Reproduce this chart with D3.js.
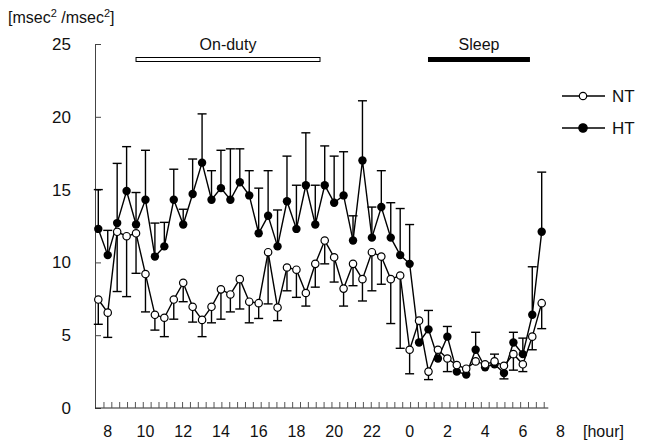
<!DOCTYPE html>
<html>
<head>
<meta charset="utf-8">
<script src="https://cdn.jsdelivr.net/npm/d3@7"></script>
<style>
  body { margin: 0; background: #fff; }
  text { font-family: "Liberation Sans", Arial, sans-serif; fill: #111; }
</style>
</head>
<body>
<script>
// hours of day, every 30 min from 7:30 to 7:00 next morning (24 = midnight)
var hours = d3.range(48).map(function(i) { return 7.5 + i * 0.5; });

// HT means and end of their error bars
var htMean = [12.3, 10.5, 12.7, 14.9, 12.6, 14.3, 10.4, 11.1, 14.3, 12.6, 14.7, 16.85,
              14.3, 15.1, 14.3, 15.5, 14.6, 12.0, 13.2, 11.1, 14.2, 12.3, 15.3, 12.6,
              15.3, 14.1, 14.6, 11.5, 17.0, 11.7, 13.8, 11.7, 10.5, 9.9, 4.5, 5.4,
              3.4, 4.9, 2.5, 2.3, 4.0, 2.8, 3.0, 2.4, 4.5, 3.7, 6.4, 12.1];
var htBar = [15.0, 12.2, 16.8, 17.95, 14.8, 17.7, 12.7, 12.75, 16.4, 13.65, 17.1, 20.2,
             16.3, 17.7, 17.8, 17.8, 16.3, 15.1, 16.3, 13.6, 17.3, 15.3, 18.9, 15.3,
             18.0, 17.3, 17.6, 13.2, 21.1, 13.8, 16.3, 14.1, 13.7, 12.6, null, 6.7,
             null, 5.6, null, null, 5.2, null, 3.7, 2.0, 5.2, 4.8, 9.7, 16.2];

// NT means and end of their error bars
var ntMean = [7.45, 6.55, 12.1, 11.8, 12.0, 9.2, 6.4, 6.2, 7.45, 8.6, 6.95, 6.05,
              6.95, 8.15, 7.8, 8.85, 7.3, 7.2, 10.7, 6.9, 9.65, 9.5, 7.9, 9.9,
              11.5, 10.35, 8.2, 9.9, 8.85, 10.7, 10.4, 8.85, 9.1, 4.0, 6.0, 2.5,
              4.0, 3.4, 2.95, 2.7, 3.2, 3.0, 3.2, 2.9, 3.7, 3.0, 4.9, 7.2];
var ntBar = [5.75, 4.85, 8.0, 7.65, 9.25, 6.6, 5.35, 4.9, 6.1, 7.3, 5.9, 4.9,
             5.85, 6.1, 6.6, 6.8, 5.85, 6.15, 7.15, 6.0, 8.05, 7.6, 7.0, 8.3,
             9.9, 8.65, 7.0, 8.4, 7.35, 8.05, 8.5, 5.8, 4.1, 2.35, null, 1.95,
             null, 2.5, null, null, null, null, null, null, 2.6, 2.5, 4.0, 5.45];

var yTicks = [0, 5, 10, 15, 20, 25];
var xTicks = [8, 10, 12, 14, 16, 18, 20, 22, 24, 26, 28, 30, 32];
var periods = [
  { name: "On-duty", from: 9.5, to: 19.25, fill: "#fff" },
  { name: "Sleep", from: 25, to: 30.35, fill: "#000" }
];

var W = 646, H = 442;
var svg = d3.select("body").append("svg").attr("width", W).attr("height", H);

var x = d3.scaleLinear().domain([7.5, 31]).range([98.3, 541.7]);
var y = d3.scaleLinear().domain([0, 25]).range([408, 44]);

// axes
var yAxis = svg.append("g").attr("transform", "translate(95,0)")
  .call(d3.axisRight(y).tickValues(yTicks).tickSize(6).tickFormat(""));
yAxis.select(".domain").attr("stroke", "#444");
yAxis.selectAll(".tick line").attr("stroke", "#444");

svg.selectAll(".ylab").data(yTicks).enter().append("text")
  .attr("x", 71).attr("y", function(d) { return y(d) + 6; })
  .attr("text-anchor", "end").attr("font-size", 17)
  .text(function(d) { return d; });

svg.append("line")
  .attr("x1", 95).attr("x2", x(31.35))
  .attr("y1", y(0)).attr("y2", y(0))
  .attr("stroke", "#222").attr("stroke-width", 1);

var minor = d3.range(7.8, 31.4, 5 / 12);
svg.selectAll(".minor").data(minor).enter().append("line")
  .attr("x1", function(d) { return x(d); }).attr("x2", function(d) { return x(d); })
  .attr("y1", y(0)).attr("y2", y(0) - 6)
  .attr("stroke", "#555").attr("stroke-width", 1);

svg.selectAll(".xlab").data(xTicks).enter().append("text")
  .attr("x", function(d) { return x(d); }).attr("y", 437)
  .attr("text-anchor", "middle").attr("font-size", 16)
  .text(function(d) { return d % 24; });

svg.append("text").attr("x", 583).attr("y", 437).attr("font-size", 16).text("[hour]");

// unit label
var unit = svg.append("text").attr("x", 8).attr("y", 23).attr("font-size", 16);
unit.append("tspan").text("[msec");
unit.append("tspan").attr("font-size", 11).attr("dy", -6).text("2");
unit.append("tspan").attr("dy", 6).text(" /msec");
unit.append("tspan").attr("font-size", 11).attr("dy", -6).text("2");
unit.append("tspan").attr("dy", 6).text("]");

// on-duty / sleep bars
svg.selectAll(".period").data(periods).enter().append("rect")
  .attr("x", function(d) { return x(d.from); })
  .attr("width", function(d) { return x(d.to) - x(d.from); })
  .attr("y", 57.5).attr("height", 4)
  .attr("fill", function(d) { return d.fill; })
  .attr("stroke", "#000").attr("stroke-width", 1);

svg.selectAll(".plab").data(periods).enter().append("text")
  .attr("x", function(d) { return (x(d.from) + x(d.to)) / 2; })
  .attr("y", 50).attr("text-anchor", "middle").attr("font-size", 16)
  .text(function(d) { return d.name; });

// error bars
function bars(mean, bar) {
  var d = hours.map(function(h, i) { return { h: h, m: mean[i], b: bar[i] }; })
    .filter(function(p) { return p.b !== null; });
  var g = svg.append("g").attr("stroke", "#000").attr("stroke-width", 1.4);
  g.selectAll(".v").data(d).enter().append("line")
    .attr("x1", function(p) { return x(p.h); }).attr("x2", function(p) { return x(p.h); })
    .attr("y1", function(p) { return y(p.m); }).attr("y2", function(p) { return y(p.b); });
  g.selectAll(".c").data(d).enter().append("line")
    .attr("x1", function(p) { return x(p.h) - 4.5; }).attr("x2", function(p) { return x(p.h) + 4.5; })
    .attr("y1", function(p) { return y(p.b); }).attr("y2", function(p) { return y(p.b); });
}
bars(htMean, htBar);
bars(ntMean, ntBar);

var line = d3.line().x(function(d) { return x(d[0]); }).y(function(d) { return y(d[1]); });
[htMean, ntMean].forEach(function(m) {
  svg.append("path")
    .datum(hours.map(function(h, i) { return [h, m[i]]; }))
    .attr("d", line).attr("fill", "none").attr("stroke", "#000").attr("stroke-width", 1.4);
});

svg.selectAll(".ht").data(htMean).enter().append("circle")
  .attr("cx", function(d, i) { return x(hours[i]); })
  .attr("cy", function(d) { return y(d); })
  .attr("r", 4.2).attr("fill", "#000");

svg.selectAll(".nt").data(ntMean).enter().append("circle")
  .attr("cx", function(d, i) { return x(hours[i]); })
  .attr("cy", function(d) { return y(d); })
  .attr("r", 3.7).attr("fill", "#fff").attr("stroke", "#000").attr("stroke-width", 1.2);

// legend
var legend = [
  { name: "NT", fill: "#fff", r: 3.7, yy: 96 },
  { name: "HT", fill: "#000", r: 4.2, yy: 128 }
];
var lg = svg.selectAll(".lg").data(legend).enter().append("g");
lg.append("line").attr("x1", 562).attr("x2", 605)
  .attr("y1", function(d) { return d.yy; }).attr("y2", function(d) { return d.yy; })
  .attr("stroke", "#000").attr("stroke-width", 1.4);
lg.append("circle").attr("cx", 583).attr("cy", function(d) { return d.yy; })
  .attr("r", function(d) { return d.r; }).attr("fill", function(d) { return d.fill; })
  .attr("stroke", "#000").attr("stroke-width", 1.2);
lg.append("text").attr("x", 612).attr("y", function(d) { return d.yy + 6; })
  .attr("font-size", 17).text(function(d) { return d.name; });
</script>
</body>
</html>
